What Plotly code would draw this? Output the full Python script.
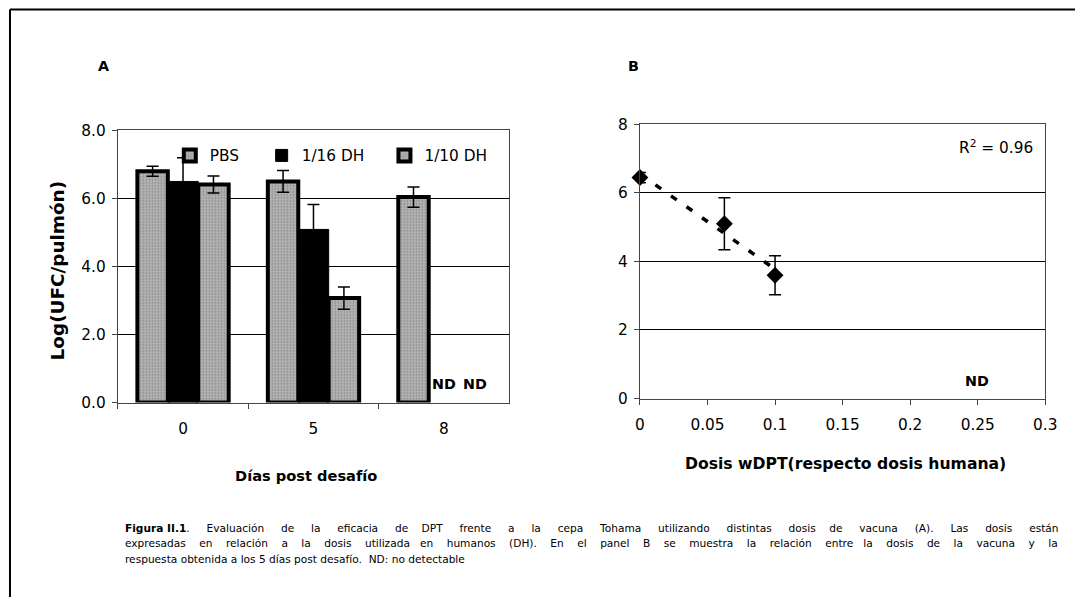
import plotly.graph_objects as go
import numpy as np

# figure size and the measured page->picture mapping of the viewer
# (picture_px = S * figure_px + O), used to place elements at reference pixels
FW, FH = 1087, 606
SX, SY = 0.986, 0.970
OX, OY = 4.0, 8.6
K = 1 / 0.978  # font compensation for the viewer scaling

# ---------------- data ----------------
days = ["0", "5", "8"]
pbs = [6.80, 6.50, 6.04]
pbs_err = [0.15, 0.32, 0.30]
dh16 = [6.50, 5.09, None]
dh16_err = [0.70, 0.73, 0]
dh10 = [6.41, 3.07, None]
dh10_err = [0.25, 0.33, 0]

dose = [0.0, 0.0625, 0.1]
resp = [6.45, 5.10, 3.60]
resp_err = [0.15, 0.76, 0.57]

y_ticks = [0, 2, 4, 6, 8]
x_ticks_b = [0, 0.05, 0.1, 0.15, 0.2, 0.25, 0.3]

caption_lines = [
    "<b>Figura II.1</b>. Evaluación de la eficacia de DPT frente a la cepa Tohama utilizando distintas dosis de vacuna (A). Las dosis están",
    "expresadas en relación a la dosis utilizada en humanos (DH). En el panel B se muestra la relación entre la dosis de la vacuna y la",
    "respuesta obtenida a los 5 días post desafío.  ND: no detectable",
]
# extra spaces spread over the word gaps to imitate the justified lines
caption_extra = [78, 73, 0]

FONT = "DejaVu Sans"


def fxp(x):
    return (x - OX) / SX


def px(x):
    return fxp(x) / FW


def py(y):
    return 1 - ((y - OY) / SY) / FH


def fs(size):
    return round(size * K, 2)


def justify(line, extra):
    if not extra:
        return line
    head = ""
    if line.startswith("<b>Figura "):
        head, line = "<b>Figura ", line[len("<b>Figura "):]
    words = line.split(" ")
    g = len(words) - 1
    out = words[0]
    for k in range(g):
        n = round((k + 1) * extra / g) - round(k * extra / g)
        out += " " * (1 + n) + words[k + 1]
    return head + out


fig = go.Figure()

gray_marker = dict(color="#a0a0a0",
                   pattern=dict(shape=".", fgcolor="#555555", bgcolor="#b8b8b8", size=3, solidity=0.35),
                   line=dict(color="black", width=4))
err_style = dict(type="data", visible=True, color="black", thickness=1.5, width=6)

fig.add_trace(go.Bar(x=days, y=pbs, name="PBS", marker=gray_marker, legend="legend",
                     error_y=dict(array=pbs_err, **err_style), xaxis="x", yaxis="y"))
fig.add_trace(go.Bar(x=days, y=dh16, name="1/16 DH", legend="legend2",
                     marker=dict(color="black", line=dict(color="black", width=1)),
                     error_y=dict(array=dh16_err, **err_style), xaxis="x", yaxis="y"))
fig.add_trace(go.Bar(x=days, y=dh10, name="1/10 DH", marker=gray_marker, legend="legend3",
                     error_y=dict(array=dh10_err, **err_style), xaxis="x", yaxis="y"))

# panel B
coef = np.polyfit(dose, resp, 1)
fit_x = [min(dose), max(dose)]
fit_y = [coef[0] * v + coef[1] for v in fit_x]
fig.add_trace(go.Scatter(x=fit_x, y=fit_y, mode="lines", showlegend=False,
                         line=dict(color="black", width=3.5, dash="7px,12px"),
                         xaxis="x2", yaxis="y2"))
fig.add_trace(go.Scatter(x=dose, y=resp, mode="markers", showlegend=False,
                         marker=dict(symbol="diamond", size=13, color="black"),
                         error_y=dict(array=resp_err, **err_style), cliponaxis=False,
                         xaxis="x2", yaxis="y2"))

axis_common = dict(showline=True, linecolor="#444", linewidth=1, mirror=True,
                   ticks="outside", ticklen=5, tickcolor="#444",
                   tickfont=dict(family=FONT, size=fs(15), color="black"), zeroline=False)

leg_common = dict(orientation="h", xanchor="left", yanchor="middle", y=py(155),
                  font=dict(family=FONT, size=fs(15)), bgcolor="rgba(0,0,0,0)", itemwidth=30)


def leg_x(text_left):
    # legend text starts ~41.5 figure px right of the legend's left edge
    return (fxp(text_left) - 41.5) / FW


fig.update_layout(
    width=FW, height=FH, margin=dict(l=0, r=0, t=0, b=0),
    paper_bgcolor="white", plot_bgcolor="white",
    barmode="group", bargap=0.3, bargroupgap=0,
    font=dict(family=FONT, color="black"),
    xaxis=dict(domain=[px(117), px(509)], anchor="y", type="category", tickson="boundaries",
               range=[-0.5, len(days) - 0.5],
               showgrid=False, ticklabelstandoff=12, **axis_common),
    yaxis=dict(domain=[py(402), py(130)], anchor="x", range=[0, 8], tickvals=y_ticks,
               tickformat=".1f", showgrid=True, gridcolor="black", gridwidth=1,
               ticklabelstandoff=3, **axis_common),
    xaxis2=dict(domain=[px(640), px(1046)], anchor="y2", range=[0, 0.3], tickvals=x_ticks_b,
                showgrid=False, ticklabelstandoff=7, **axis_common),
    yaxis2=dict(domain=[py(398), py(124)], anchor="x2", range=[0, 8], tickvals=y_ticks,
                showgrid=True, gridcolor="black", gridwidth=1, ticklabelstandoff=3, **axis_common),
    legend=dict(x=leg_x(210), **leg_common),
    legend2=dict(x=leg_x(302), **leg_common),
    legend3=dict(x=leg_x(425), **leg_common),
)

ann = []
ann.append(dict(text="<b>A</b>", x=px(103), y=py(66), font=dict(size=fs(14))))
ann.append(dict(text="<b>B</b>", x=px(634), y=py(66), font=dict(size=fs(14))))
ann.append(dict(text="<b>Log(UFC/pulmón)</b>", x=px(57), y=py(270), textangle=-90, font=dict(size=18.4)))
ann.append(dict(text="<b>Días post desafío</b>", x=px(306), y=py(475), font=dict(size=fs(14.3))))
ann.append(dict(text="<b>Dosis wDPT(respecto dosis humana)</b>", x=px(846), y=py(463), font=dict(size=fs(15.3))))
ann.append(dict(text="R<sup>2</sup> = 0.96", x=px(997), y=py(147), font=dict(size=fs(15))))
ann.append(dict(text="<b>ND</b>", x=px(978), y=py(380), font=dict(size=fs(14))))
# ND labels for the missing bars on day 8 (category index of day "8")
nd_idx = days.index("8")
ann.append(dict(text="<b>ND</b>", x=nd_idx, y=0.55, xref="x", yref="y", xshift=0, font=dict(size=fs(14))))
ann.append(dict(text="<b>ND</b>", x=nd_idx, y=0.55, xref="x", yref="y", xshift=31, font=dict(size=fs(14))))
for i, line in enumerate(caption_lines):
    ann.append(dict(text=justify(line, caption_extra[i]), x=px(122), y=py(527 + 15.5 * i),
                    xanchor="left", font=dict(size=10.6)))

for a in ann:
    a.setdefault("xref", "paper")
    a.setdefault("yref", "paper")
    a.setdefault("showarrow", False)
    a.setdefault("xanchor", "center")
    a.setdefault("yanchor", "middle")
    a["font"] = dict(family=FONT, color="black", **a["font"])
fig.update_layout(annotations=ann)

# page frame
fig.add_shape(type="line", xref="paper", yref="paper", x0=px(9), x1=1, y0=py(9), y1=py(9),
              line=dict(color="black", width=2))
fig.add_shape(type="line", xref="paper", yref="paper", x0=px(9), x1=px(9), y0=py(9), y1=0,
              line=dict(color="black", width=2))

fig.write_html("out.html")
